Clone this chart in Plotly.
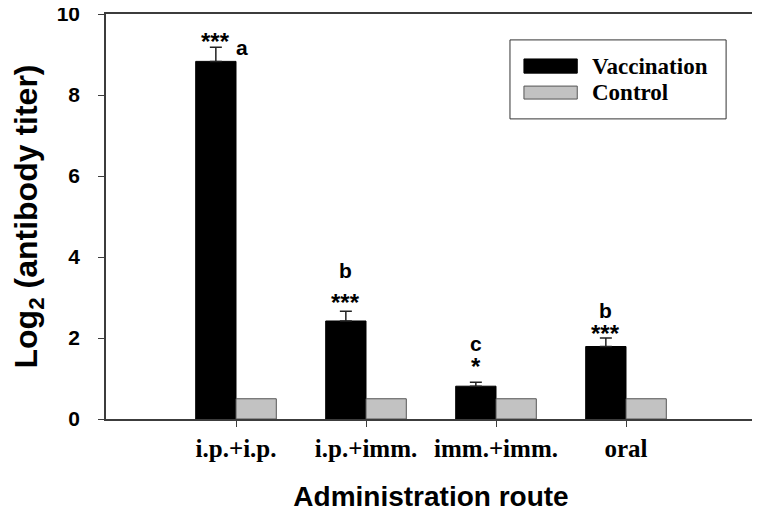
import plotly.graph_objects as go

routes = ["i.p.+i.p.", "i.p.+imm.", "imm.+imm.", "oral"]
vaccination = [8.83, 2.42, 0.81, 1.79]
vaccination_err = [0.35, 0.24, 0.10, 0.21]
control = [0.5, 0.5, 0.5, 0.5]
stars = ["***", "***", "*", "***"]
letters = ["a", "b", "c", "b"]

# label spacing above the error caps, in pixels (layout only)
STAR_GAP = [5, 8, 15, 4]
LETTER_GAP = [0, 32, 30, 19]

SERIF = "Liberation Serif, Times New Roman, serif"
SANS = "Liberation Sans, Arial, sans-serif"
AXIS = "#3c3c3c"

fig = go.Figure()
fig.add_trace(go.Bar(
    x=routes, y=vaccination, name="Vaccination",
    marker=dict(color="#000000", line=dict(color="#000000", width=1)),
    error_y=dict(type="data", array=vaccination_err, arrayminus=[0] * 4,
                 symmetric=False, color="#222222", thickness=1.5, width=6),
))
fig.add_trace(go.Bar(
    x=routes, y=control, name="Control",
    marker=dict(color="#c2c2c2", line=dict(color="#555555", width=1)),
))

# significance marks above the vaccination bars
off = -0.155
for i, (v, e, s, l) in enumerate(zip(vaccination, vaccination_err, stars, letters)):
    top = v + e
    fig.add_annotation(x=i + off, y=top, text=f"<b>{s}</b>", showarrow=False,
                       yanchor="bottom", yshift=STAR_GAP[i] - 15,
                       font=dict(family=SANS, size=24, color="black"))
    if i == 0:
        fig.add_annotation(x=i + 0.045, y=top, text=f"<b>{l}</b>", showarrow=False,
                           yanchor="middle", yshift=0,
                           font=dict(family=SANS, size=21, color="black"))
    else:
        fig.add_annotation(x=i + off, y=top, text=f"<b>{l}</b>", showarrow=False,
                           yanchor="bottom", yshift=LETTER_GAP[i] - 5,
                           font=dict(family=SANS, size=21, color="black"))

# legend drawn as a box with wide swatches
fig.add_shape(type="rect", xref="paper", yref="paper", x0=0.6215, x1=0.954, y0=0.741, y1=0.936,
              line=dict(color="#333333", width=1), fillcolor="white")
fig.add_shape(type="rect", xref="paper", yref="paper", x0=0.643, x1=0.725, y0=0.854, y1=0.889,
              line=dict(color="#000000", width=1), fillcolor="#000000")
fig.add_shape(type="rect", xref="paper", yref="paper", x0=0.643, x1=0.725, y0=0.790, y1=0.822,
              line=dict(color="#555555", width=1), fillcolor="#c2c2c2")
fig.add_annotation(xref="paper", yref="paper", x=0.745, y=0.871, text="<b>Vaccination</b>",
                   showarrow=False, xanchor="left", yanchor="middle",
                   font=dict(family=SERIF, size=23, color="black"))
fig.add_annotation(xref="paper", yref="paper", x=0.745, y=0.805, text="<b>Control</b>",
                   showarrow=False, xanchor="left", yanchor="middle",
                   font=dict(family=SERIF, size=23, color="black"))

fig.update_layout(
    width=760, height=513,
    paper_bgcolor="white", plot_bgcolor="white",
    margin=dict(l=98, r=12, t=6, b=102),
    barmode="group", bargap=0.38, bargroupgap=0,
    showlegend=False,
    xaxis=dict(
        range=[-1, 4], automargin=False,
        showline=True, linecolor=AXIS, linewidth=1.5, mirror=True,
        ticks="outside", ticklen=6, tickcolor=AXIS, showgrid=False, zeroline=False,
        tickfont=dict(family=SERIF, size=25, color="black"),
        tickprefix="<b>", ticksuffix="</b>", ticklabelstandoff=0,
        title=dict(text="<b>Administration route</b>", font=dict(family=SANS, size=28, color="black"),
                   standoff=26),
    ),
    yaxis=dict(
        range=[0, 10], dtick=2, automargin=False,
        showline=True, linecolor=AXIS, linewidth=1.5, mirror=True,
        ticks="outside", ticklen=6, tickcolor=AXIS, showgrid=False, zeroline=False,
        tickfont=dict(family=SANS, size=21, color="black"),
        tickprefix="<b>", ticksuffix="</b>", ticklabelstandoff=14,
        ticklabeloverflow="allow",
        title=dict(text="<b>Log<sub>2</sub> (antibody titer)</b>",
                   font=dict(family=SANS, size=32, color="black"), standoff=30),
    ),
)

fig.write_html("out.html")
